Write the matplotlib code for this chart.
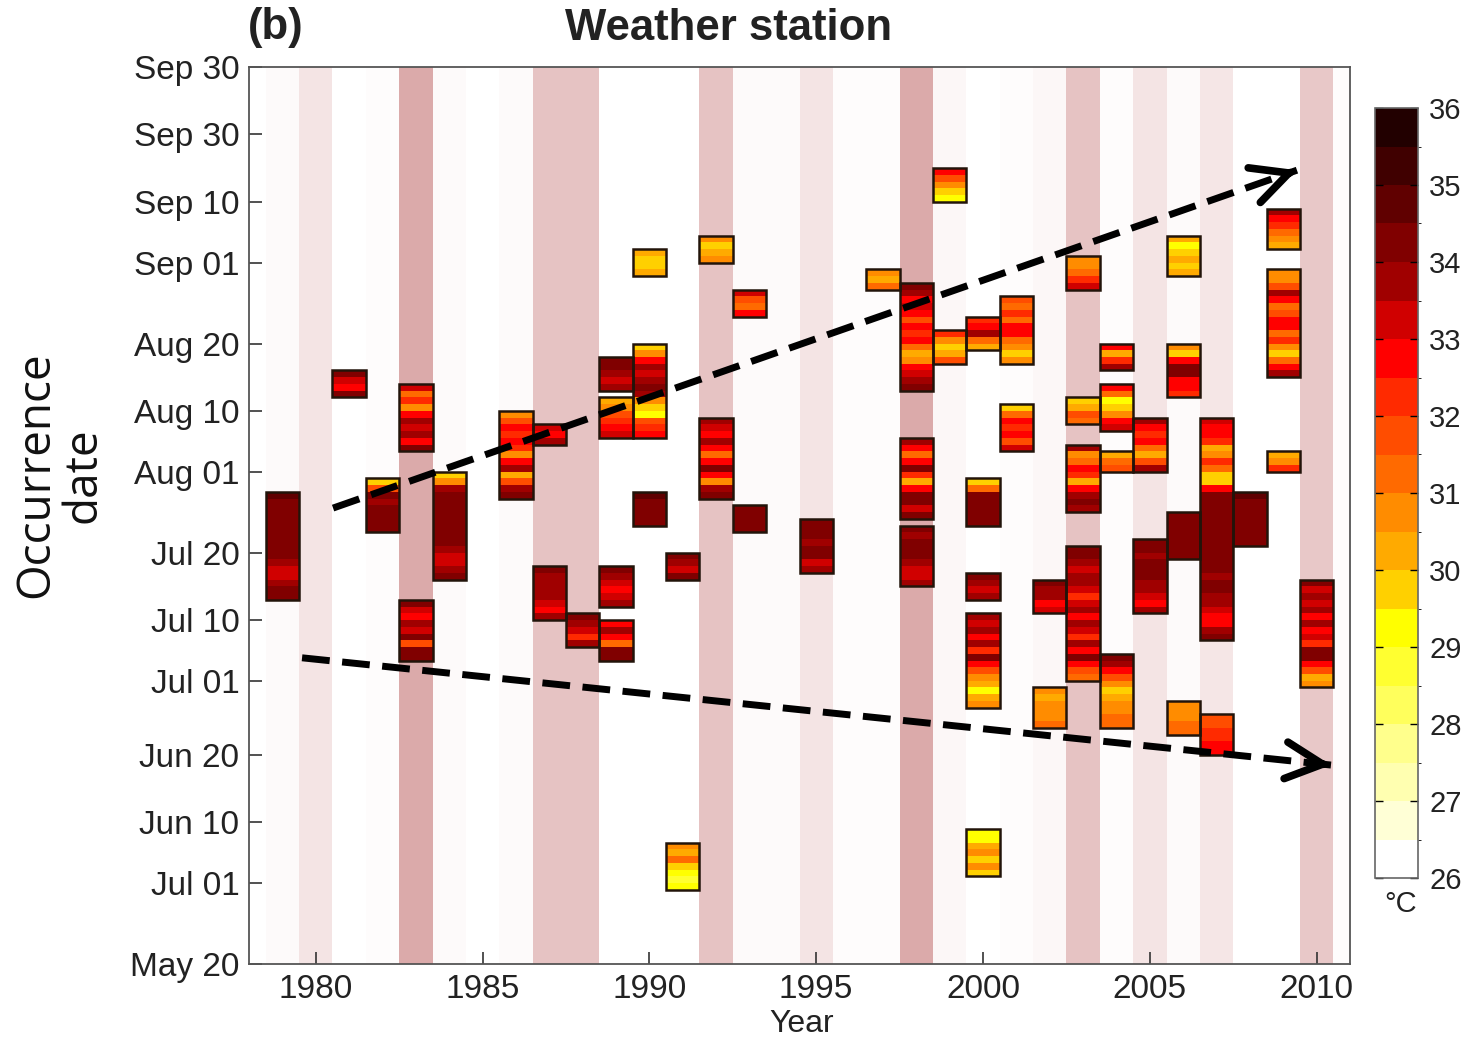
import numpy as np
import matplotlib
matplotlib.use('Agg')
import matplotlib.pyplot as plt
from matplotlib.colors import ListedColormap, BoundaryNorm, to_rgb
from matplotlib.patches import Rectangle
from matplotlib.cm import ScalarMappable

plt.rcParams['font.family'] = ['Liberation Sans', 'DejaVu Sans']

# ---------------- data ----------------
band_years = list(range(1978, 2012))
band_level = [0, 0.05, 0.27, 0, 0.03, 0.85, 0.05, 0, 0.05, 0.6, 0.6, 0, 0, 0, 0.6,
              0.05, 0.05, 0.27, 0.03, 0.03, 0.85, 0.08, 0, 0.03, 0.08, 0.6, 0.03,
              0.27, 0.05, 0.25, 0, 0, 0.55, 0.03]

# heat-wave events: year, first day (day of year), daily max temperature (deg C)
event_year = [1979, 1981, 1982, 1983, 1983, 1984, 1986, 1987, 1987, 1988,
              1989, 1989, 1989, 1989, 1990, 1990, 1990, 1991, 1991, 1992,
              1992, 1993, 1993, 1995, 1997, 1998, 1998, 1998, 1999, 1999,
              2000, 2000, 2000, 2000, 2000, 2001, 2001, 2002, 2002, 2003,
              2003, 2003, 2003, 2004, 2004, 2004, 2004, 2005, 2005, 2006,
              2006, 2006, 2006, 2007, 2007, 2008, 2009, 2009, 2009, 2010]
event_start = [194, 224, 204, 216, 185, 197, 209, 217, 191, 187,
               225, 218, 193, 185, 242, 218, 205, 197, 151, 244,
               209, 236, 204, 198, 240, 225, 206, 196, 253, 229,
               231, 205, 194, 178, 153, 229, 216, 192, 175, 240,
               220, 207, 182, 228, 219, 213, 175, 213, 192, 242,
               224, 200, 174, 188, 171, 202, 246, 227, 213, 181]
event_temps = [
    [34.1, 34.1, 33.6, 33.1, 33.1, 33.6, 34.1, 34.1, 34.1, 34.1, 34.1, 34.1, 34.1, 34.1, 34.4, 34.8],
    [34.1, 32.6, 33.1, 34.1],
    [34.1, 34.1, 34.1, 34.1, 33.6, 34.1, 31.6, 29.6],
    [34.1, 32.6, 33.6, 33.1, 33.6, 32.6, 30.6, 32.1, 31.1, 33.1],
    [34.4, 34.1, 31.6, 34.1, 33.1, 33.6, 32.6, 33.1, 34.1],
    [34.1, 33.6, 33.1, 33.1, 33.6, 34.1, 34.1, 34.4, 34.4, 34.4, 34.1, 34.1, 34.1, 33.6, 30.6, 29.6],
    [34.4, 33.6, 31.6, 30.1, 33.6, 32.6, 30.6, 32.1, 32.6, 32.1, 32.6, 31.6, 30.6],
    [33.6, 32.6, 33.1],
    [33.6, 32.6, 33.1, 33.6, 33.6, 33.6, 33.6, 34.1],
    [33.6, 32.1, 33.1, 33.6, 34.1],
    [33.6, 33.1, 33.6, 34.1, 34.1],
    [33.1, 32.6, 32.1, 31.6, 30.6, 30.1],
    [33.6, 33.1, 32.6, 33.1, 33.6, 34.1],
    [34.4, 34.1, 31.1, 32.6, 33.6, 32.6],
    [30.1, 29.6, 29.6, 30.1],
    [32.6, 32.1, 31.6, 29.1, 29.6, 30.6, 33.6, 34.1, 33.6, 33.1, 33.6, 32.6, 30.6, 29.6],
    [34.4, 34.4, 34.1, 34.4, 34.8],
    [34.1, 33.1, 33.6, 34.1],
    [29.1, 28.6, 29.1, 29.6, 31.1, 30.1, 30.6],
    [30.6, 30.1, 29.6, 30.6],
    [34.4, 33.6, 30.6, 32.6, 34.1, 32.6, 31.1, 32.6, 33.6, 32.6, 33.1, 33.6],
    [32.6, 31.1, 31.6, 33.1],
    [34.1, 34.4, 34.1, 34.4],
    [33.6, 33.1, 34.1, 34.1, 33.6, 34.1, 34.4, 34.4],
    [31.1, 30.1, 30.6],
    [34.1, 33.6, 33.1, 32.6, 30.6, 30.1, 31.1, 32.6, 32.1, 32.6, 31.6, 32.6, 33.1, 32.6, 33.6, 34.1],
    [34.1, 33.1, 34.1, 34.1, 32.6, 30.1, 32.1, 34.1, 32.6, 31.1, 32.6, 33.6],
    [33.6, 33.1, 33.1, 33.6, 34.1, 34.1, 34.1, 33.6, 34.1],
    [29.1, 29.6, 30.6, 31.6, 32.6],
    [31.6, 30.1, 29.6, 30.6, 32.1],
    [30.1, 31.1, 33.6, 32.6, 32.1],
    [34.4, 34.1, 34.4, 34.1, 34.1, 31.1, 29.6],
    [33.6, 33.1, 33.6, 34.1],
    [30.6, 30.1, 29.1, 30.1, 30.6, 31.6, 32.6, 34.4, 32.1, 33.6, 32.6, 33.6, 33.1, 33.6],
    [29.6, 30.6, 29.6, 30.6, 30.1, 29.1, 29.1],
    [30.6, 29.6, 30.6, 31.1, 32.6, 32.6, 31.1, 32.1, 31.1, 31.6],
    [33.1, 31.6, 32.6, 32.1, 32.6, 31.1, 29.6],
    [33.1, 32.6, 33.6, 33.6, 34.1],
    [31.1, 30.6, 30.6, 30.6, 30.1, 30.6],
    [33.1, 32.1, 31.1, 30.6, 30.6],
    [31.1, 31.6, 30.1, 29.6],
    [33.6, 34.1, 33.6, 32.6, 30.1, 32.1, 32.6, 31.1, 30.6, 33.6],
    [31.1, 31.6, 32.6, 34.1, 32.6, 33.6, 32.1, 33.1, 33.6, 32.6, 33.6, 33.1, 32.1, 33.1, 33.6, 33.6, 33.1, 33.6, 34.1, 34.4],
    [33.6, 32.1, 30.1, 32.6],
    [33.1, 32.6, 30.6, 29.6, 29.1, 31.1, 32.6],
    [31.6, 31.1, 30.1],
    [31.1, 31.1, 30.6, 30.6, 30.1, 29.6, 30.6, 31.6, 32.6, 33.6, 34.4],
    [33.6, 31.6, 30.1, 31.1, 32.6, 32.1, 32.6, 33.6],
    [33.6, 32.6, 33.1, 33.6, 33.6, 34.1, 34.1, 34.1, 33.6, 34.1, 34.4],
    [30.1, 29.6, 30.1, 29.6, 29.1, 30.1],
    [32.1, 32.6, 32.6, 34.1, 34.1, 32.6, 29.6, 30.6],
    [34.1, 34.4, 34.4, 34.4, 34.4, 34.4, 34.4],
    [31.1, 31.1, 30.6, 30.6, 30.6],
    [34.1, 33.6, 32.6, 32.6, 33.1, 33.6, 33.6, 34.1, 34.1, 33.6, 34.1, 34.1, 34.1, 34.1, 34.4, 34.4, 34.4,
     34.4, 34.4, 34.4, 34.4, 34.1, 32.6, 29.6, 29.6, 31.1, 32.1, 30.6, 30.1, 32.1, 32.6, 32.6, 33.1],
    [32.6, 32.6, 32.1, 32.1, 31.6, 31.6],
    [34.4, 34.4, 34.4, 34.4, 34.4, 34.4, 34.4, 34.8],
    [30.1, 30.6, 31.1, 32.1, 32.6, 33.6],
    [33.6, 32.6, 31.1, 29.6, 30.6, 32.1, 31.1, 32.6, 32.6, 31.6, 31.1, 32.6, 33.6, 31.6, 30.6, 30.6],
    [32.1, 30.6, 30.1],
    [30.6, 30.1, 31.6, 32.6, 34.1, 34.4, 32.1, 33.1, 32.6, 33.6, 32.6, 33.6, 33.1, 33.6, 33.1, 34.1],
]

tick_doy = [273, 263, 253, 244, 232, 222, 213, 201, 191, 182, 171, 161, 152, 140]
tick_labels = ['Sep 30', 'Sep 30', 'Sep 10', 'Sep 01', 'Aug 20', 'Aug 10', 'Aug 01',
               'Jul 20', 'Jul 10', 'Jul 01', 'Jun 20', 'Jun 10', 'Jul 01', 'May 20']
year_ticks = [1980, 1985, 1990, 1995, 2000, 2005, 2010]
cbar_ticks = list(range(26, 37))

# trend arrows (annotation): (year, day) start -> end
upper_arrow = ((1980.52, 207.1), (2009.41, 257.2))
lower_arrow = ((1979.59, 184.9), (2010.43, 169.0))

# ---------------- style ----------------
cmap_colors = ['#ffffff', '#ffffd6', '#ffffb0', '#ffff8c', '#ffff5c', '#ffff30',
               '#ffff00', '#ffd000', '#ffaa00', '#ff8c00', '#ff6a00', '#ff4d00',
               '#ff2a00', '#ff0000', '#d00000', '#a00000', '#800000', '#600000',
               '#400000', '#220000']
cmap = ListedColormap(cmap_colors)
norm = BoundaryNorm(np.arange(26, 36.01, 0.5), cmap.N)
band_max = np.array(to_rgb('#d59b9b'))

fig = plt.figure(figsize=(14.67, 10.44), dpi=100)
W, H = 1467, 1044
ax = fig.add_axes([249 / W, 1 - 964 / H, (1350 - 249) / W, (964 - 67) / H])

for yr, lvl in zip(band_years, band_level):
    c = 1 - lvl * (1 - band_max)
    ax.axvspan(yr - 0.5, yr + 0.5, color=c, lw=0, zorder=0)

for yr, s, temps in zip(event_year, event_start, event_temps):
    n = len(temps)
    yedges = s - 0.5 + np.arange(n + 1)
    xedges = [yr - 0.5, yr + 0.5]
    ax.pcolormesh(xedges, yedges, np.array(temps).reshape(n, 1), cmap=cmap, norm=norm,
                  zorder=2, shading='flat')
    ax.add_patch(Rectangle((yr - 0.5, s - 0.5), 1, n, fill=False, ec='#22140a', lw=1.8, zorder=3))

for (p0, p1) in (upper_arrow, lower_arrow):
    ax.plot([p0[0], p1[0]], [p0[1], p1[1]], color='k', lw=5, linestyle=(0, (4, 1.8)),
            dash_capstyle='butt', zorder=5)
    back = (p1[0] - 0.01 * (p1[0] - p0[0]), p1[1] - 0.01 * (p1[1] - p0[1]))
    ax.annotate('', xy=p1, xytext=back,
                arrowprops=dict(arrowstyle='->,head_length=1.2,head_width=0.6', lw=5.5, color='k',
                                mutation_scale=22, shrinkA=0, shrinkB=0,
                                capstyle='round', joinstyle='round'), zorder=6)

ax.set_xlim(1978, 2011)
ax.set_ylim(139.5, 272.5)
ax.set_xticks(year_ticks)
ax.set_xticklabels([str(y) for y in year_ticks])
ax.set_yticks(np.array(tick_doy) - 0.5)
ax.set_yticklabels(tick_labels)
ax.tick_params(direction='in', length=9, width=1.2, labelsize=24, pad=7, colors='#333333',
               labelcolor='#222222', top=False, right=False)
for sp in ax.spines.values():
    sp.set_color('#555555')
    sp.set_linewidth(1.3)

# colorbar
cax = fig.add_axes([1375 / W, 1 - 878 / H, 43 / W, (878 - 108) / H])
cb = fig.colorbar(ScalarMappable(norm=norm, cmap=cmap), cax=cax, ticks=cbar_ticks)
cb.outline.set_edgecolor('#666666')
cb.outline.set_linewidth(1.2)
cax.tick_params(direction='in', left=True, right=True, length=6, width=1, labelsize=21,
                pad=8, labelcolor='#222222')

fig.text(1401 / W, 1 - 904 / H, '°C', ha='center', va='center', fontsize=21, color='#222222')
fig.text(729 / W, 1 - 28 / H, 'Weather station', ha='center', va='center', fontsize=31.5,
         fontweight='bold', color='#222222')
fig.text(248 / W, 1 - 28 / H, '(b)', ha='left', va='center', fontsize=31.5,
         fontweight='bold', color='#222222')
fig.text(60 / W, 1 - 475 / H, 'Occurrence\ndate', rotation=90, ha='center', va='center',
         fontsize=33, family=['Open Sans', 'DejaVu Sans'], linespacing=1.05, color='#111111')
fig.text(802 / W, 1 - 1024 / H, 'Year', ha='center', va='center', fontsize=23, color='#222222')

fig.savefig('out.png', dpi=100)
